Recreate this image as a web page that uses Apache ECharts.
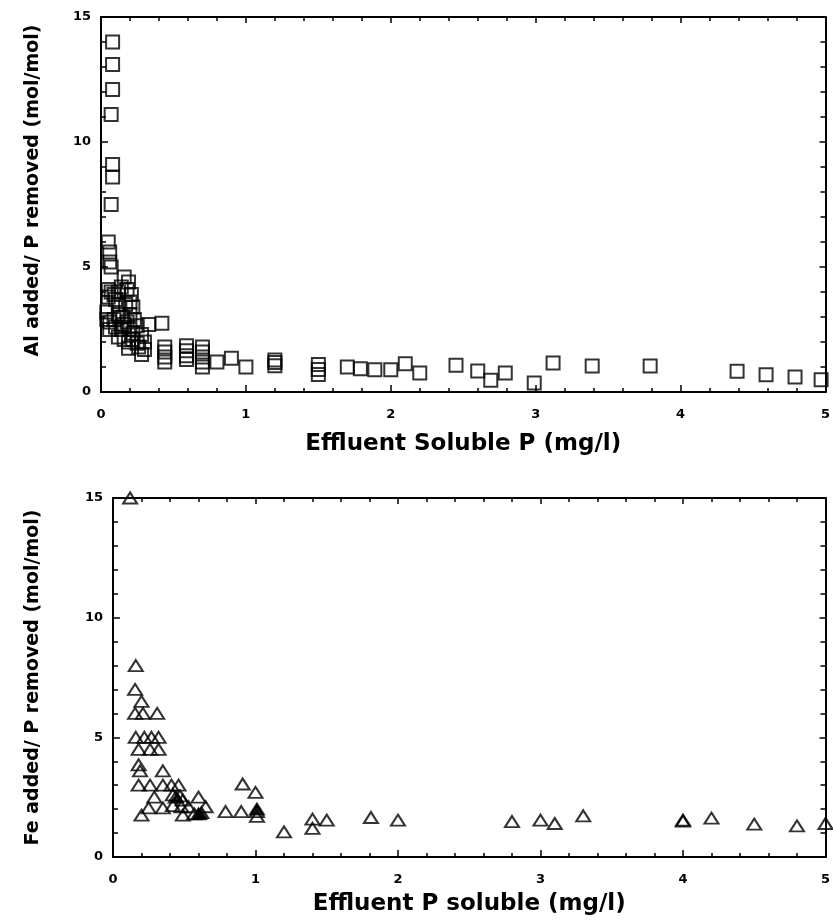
<!DOCTYPE html>
<html>
<head>
<meta charset="utf-8">
<script src="https://cdn.jsdelivr.net/npm/echarts@6/dist/echarts.min.js"></script>
<style>
html,body{margin:0;padding:0;background:#fff;}
#chart{width:833px;height:920px;}
</style>
</head>
<body>
<div id="chart"></div>
<script>
// ---- Data ----
// Top panel: Al added / P removed vs effluent soluble P
const alEffluentP = [0.08,0.08,0.08,0.07,0.08,0.08,0.07,0.05,0.06,0.06,0.07,
  0.05,0.07,0.09,0.05,0.10,0.12,0.14,0.16,0.19,0.18,0.21,0.20,0.22,0.17,0.12,
  0.04,0.04,0.06,0.09,0.12,0.15,0.18,0.20,0.23,0.06,0.10,0.14,0.16,0.20,0.22,0.25,0.28,0.33,0.42,
  0.12,0.16,0.19,0.22,0.25,0.30,0.19,0.26,0.30,0.28,
  0.44,0.44,0.44,0.44,
  0.59,0.59,0.59,0.59,
  0.70,0.70,0.70,0.70,0.70,
  0.80,0.90,1.00,1.20,1.20,1.20,
  1.50,1.50,1.50,1.70,1.79,1.89,2.00,2.10,2.20,2.45,2.60,2.69,2.79,2.99,3.12,3.39,3.79,4.39,4.59,4.79,4.97];
const alRatio = [14.0,13.1,12.1,11.1,9.1,8.6,7.5,6.0,5.6,5.2,5.0,
  4.1,4.0,3.9,3.8,3.7,4.0,4.2,4.6,4.4,4.1,3.9,3.6,3.4,3.5,3.5,
  3.2,2.9,2.8,2.9,3.1,3.0,2.8,3.1,2.9,2.5,2.6,2.5,2.7,2.5,2.35,2.65,2.3,2.7,2.75,
  2.2,2.1,2.0,2.1,1.95,2.0,1.75,1.8,1.7,1.5,
  1.8,1.6,1.4,1.2,
  1.85,1.65,1.45,1.3,
  1.8,1.6,1.4,1.2,1.0,
  1.2,1.35,1.0,1.28,1.18,1.05,
  1.1,0.9,0.7,1.0,0.93,0.89,0.89,1.13,0.76,1.07,0.84,0.47,0.76,0.36,1.16,1.04,1.04,0.83,0.69,0.6,0.49];

// Bottom panel: Fe added / P removed vs effluent P soluble
const feEffluentP = [0.12,0.16,0.155,0.20,0.155,0.21,0.31,0.16,0.22,0.27,0.32,0.18,0.26,0.32,
  0.18,0.19,0.35,0.18,0.26,0.35,0.41,0.46,0.29,0.42,0.44,0.47,0.49,0.60,0.25,0.35,0.42,0.48,0.53,0.65,
  0.20,0.49,0.57,0.60,0.62,0.79,0.90,0.91,1.00,1.01,1.01,1.01,1.20,1.40,1.40,1.50,1.81,2.00,
  2.80,3.00,3.10,3.30,4.00,4.00,4.20,4.50,4.80,5.00];
const feRatio = [15.0,8.0,7.0,6.5,6.0,6.0,6.0,5.0,5.0,5.0,5.0,4.5,4.5,4.5,
  3.85,3.6,3.6,3.0,3.0,3.0,3.0,3.0,2.5,2.6,2.5,2.55,2.38,2.5,2.05,2.05,2.15,2.1,2.1,2.1,
  1.75,1.75,1.8,1.8,1.85,1.9,1.9,3.05,2.7,2.0,1.9,1.7,1.05,1.58,1.2,1.54,1.65,1.54,
  1.48,1.54,1.4,1.72,1.54,1.5,1.62,1.37,1.3,1.4];
// dense (overprinted, appear filled) Fe points
const feDenseP = [0.45,0.60,0.62,1.01];
const feDenseRatio = [2.5,1.8,1.8,2.0];

const xTickValues = [0,1,2,3,4,5];
const yTickValues = [0,5,10,15];

const zip = (xs, ys) => xs.map((x, i) => [x, ys[i]]);

// ---- Styling ----
const FONT = '"DejaVu Sans", "Liberation Sans", sans-serif';
const INK = '#000';

function xAxisCfg(gridIndex, name, gap) {
  return {
    gridIndex, type: 'value', min: xTickValues[0], max: xTickValues[xTickValues.length-1], interval: 1,
    name, nameLocation: 'middle', nameGap: gap,
    nameTextStyle: {fontFamily: FONT, fontWeight: 'bold', fontSize: 23, color: INK},
    axisLine: {show: true, onZero: false, lineStyle: {color: INK, width: 2}},
    axisTick: {show: true, inside: true, length: 7, lineStyle: {color: INK, width: 1.5}},
    minorTick: {show: true, splitNumber: 5, length: 4, lineStyle: {color: INK, width: 1.5}},
    axisLabel: {fontFamily: FONT, fontWeight: 'bold', fontSize: 13, color: INK, margin: 16},
    splitLine: {show: false}
  };
}
function xAxisTop(gridIndex) {
  return {
    gridIndex, type: 'value', position: 'top', min: 0, max: 5, interval: 1,
    axisLine: {show: true, onZero: false, lineStyle: {color: INK, width: 2}},
    axisTick: {show: true, inside: true, length: 6, lineStyle: {color: INK, width: 1.5}},
    minorTick: {show: true, splitNumber: 5, length: 4, lineStyle: {color: INK, width: 1.5}},
    axisLabel: {show: false}, splitLine: {show: false}
  };
}
function yAxisCfg(gridIndex, name, gap, pad) {
  return {
    gridIndex, type: 'value', min: yTickValues[0], max: yTickValues[yTickValues.length-1], interval: 5,
    name, nameLocation: 'middle', nameGap: gap, nameRotate: 90,
    nameTextStyle: {fontFamily: FONT, fontWeight: 'bold', fontSize: 19, color: INK, padding: pad},
    axisLine: {show: true, onZero: false, lineStyle: {color: INK, width: 2}},
    axisTick: {show: true, inside: true, length: 7, lineStyle: {color: INK, width: 1.5}},
    minorTick: {show: true, splitNumber: 5, length: 5, lineStyle: {color: INK, width: 1.5}},
    axisLabel: {fontFamily: FONT, fontWeight: 'bold', fontSize: 13, color: INK, margin: 10},
    splitLine: {show: false}
  };
}
function yAxisRight(gridIndex) {
  return {
    gridIndex, type: 'value', position: 'right', min: 0, max: 15, interval: 5,
    axisLine: {show: true, onZero: false, lineStyle: {color: INK, width: 2}},
    axisTick: {show: true, inside: true, length: 6, lineStyle: {color: INK, width: 1.5}},
    minorTick: {show: true, splitNumber: 5, length: 5, lineStyle: {color: INK, width: 1.5}},
    axisLabel: {show: false}, splitLine: {show: false}
  };
}

const chart = echarts.init(document.getElementById('chart'), null, {renderer: 'canvas'});
chart.setOption({
  backgroundColor: '#fff',
  animation: false,
  grid: [
    {left: 101, top: 17, width: 731, height: 375},
    {left: 113, top: 498, width: 719, height: 359}
  ],
  xAxis: [
    xAxisCfg(0, 'Effluent Soluble P (mg/l)', 41),
    xAxisCfg(1, 'Effluent P soluble (mg/l)', 36),
    xAxisTop(0), xAxisTop(1)
  ],
  yAxis: [
    yAxisCfg(0, 'Al added/ P removed (mol/mol)', 58, [0, 0, 0, 28]),
    yAxisCfg(1, 'Fe added/ P removed (mol/mol)', 70, 0),
    yAxisRight(0), yAxisRight(1)
  ],
  series: [
    {
      type: 'scatter', xAxisIndex: 0, yAxisIndex: 0, clip: false,
      symbol: 'rect', symbolSize: 13,
      itemStyle: {color: 'rgba(0,0,0,0)', borderColor: INK, borderWidth: 2},
      data: zip(alEffluentP, alRatio)
    },
    {
      type: 'scatter', xAxisIndex: 1, yAxisIndex: 1, clip: false,
      symbol: 'triangle', symbolSize: [14, 11],
      itemStyle: {color: 'rgba(0,0,0,0)', borderColor: INK, borderWidth: 2},
      data: zip(feEffluentP, feRatio)
    },
    {
      type: 'scatter', xAxisIndex: 1, yAxisIndex: 1, clip: false,
      symbol: 'triangle', symbolSize: [12, 10],
      itemStyle: {color: INK, borderColor: INK, borderWidth: 1},
      data: zip(feDenseP, feDenseRatio)
    }
  ]
});
</script>
</body>
</html>
